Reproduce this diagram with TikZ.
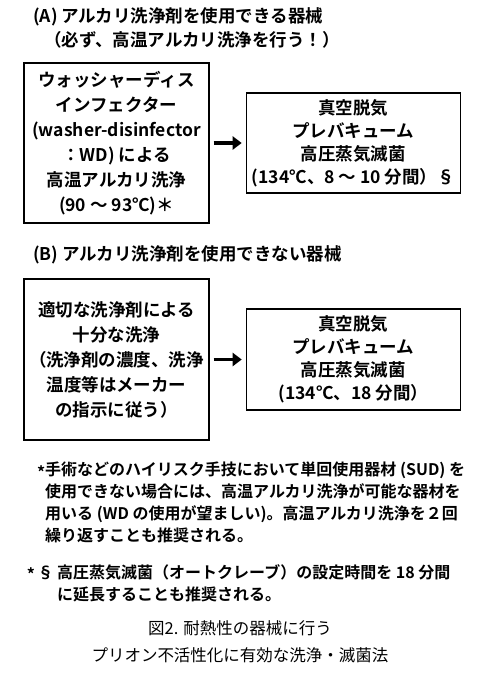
\documentclass[tikz,border=0pt]{standalone}
\usepackage{fontspec}
\setmainfont{Noto Sans CJK JP}[BoldFont={Noto Sans CJK JP Bold}]
\usetikzlibrary{arrows.meta,positioning}

\begin{document}
\begin{tikzpicture}[x=1pt,y=-1pt,
  setbox/.style={draw, line width=1.4pt, align=center, inner sep=0pt, font=\bfseries\fontsize{17.5}{25}\selectfont},
  headline/.style={anchor=west, inner sep=0pt, font=\bfseries\fontsize{17.5}{21}\selectfont},
  notetext/.style={anchor=north west, align=left, inner sep=0pt, font=\bfseries\fontsize{16}{22}\selectfont},
  fatarrow/.style={line width=3.4pt, -{Triangle[length=9pt,width=13pt]}, shorten <=4pt, shorten >=4pt}]

\useasboundingbox (0,0) rectangle (480,681);

% (A) heat-resistant, alkaline ok
\path (33,17) node (titleA) [headline] {(A) アルカリ洗浄剤を使用できる器械};
\path (44,40) node (titleA2) [headline] {（必ず、高温アルカリ洗浄を行う！）};

\path (116.5,143) node (washer) [setbox, minimum width=185pt, minimum height=160pt] {ウォッシャーディス\\インフェクター\\(washer-disinfector\\：WD) による\\高温アルカリ洗浄\\(90 ～ 93℃)＊};
\node (autoA) [setbox, right=36pt of washer, minimum width=214pt, minimum height=100pt, font=\bfseries\fontsize{17.5}{23}\selectfont] {真空脱気\\プレバキューム\\高圧蒸気滅菌\\(134℃、8 ～ 10 分間）§};

\draw[fatarrow] (washer) -- (autoA);

% (B) alkaline not allowed
\path (33,255) node (titleB) [headline] {(B) アルカリ洗浄剤を使用できない器械};

\path (116.5,359.5) node (detergent) [setbox, minimum width=185pt, minimum height=161pt] {適切な洗浄剤による\\十分な洗浄\\（洗浄剤の濃度、洗浄\\温度等はメーカー\\の指示に従う）};
\node (autoB) [setbox, right=36pt of detergent, minimum width=214pt, minimum height=101pt, font=\bfseries\fontsize{17.5}{23}\selectfont] {真空脱気\\プレバキューム\\高圧蒸気滅菌\\(134℃、18 分間）};

\draw[fatarrow] (detergent) -- (autoB);

% footnotes
\path (45,462) node (noteSUD) [notetext] {\llap{\raisebox{-0.3ex}{*}}手術などのハイリスク手技において単回使用器材 (SUD) を\\使用できない場合には、高温アルカリ洗浄が可能な器材を\\用いる (WD の使用が望ましい)。高温アルカリ洗浄を２回\\繰り返すことも推奨される。};
\path (57,564) node (noteTime) [notetext] {\llap{\raisebox{-0.3ex}{*}\,§\ }高圧蒸気滅菌（オートクレーブ）の設定時間を 18 分間\\に延長することも推奨される。};

% caption
\path (240,642) node (caption) [align=center, inner sep=0pt, font=\fontsize{16.5}{27}\selectfont] {図2. 耐熱性の器械に行う\\プリオン不活性化に有効な洗浄・滅菌法};

\end{tikzpicture}
\end{document}
